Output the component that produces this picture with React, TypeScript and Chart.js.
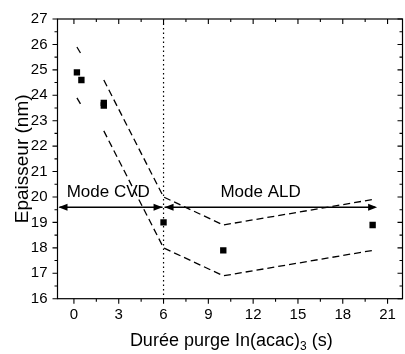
import React, { useEffect, useRef } from 'react';
import { Chart, registerables } from 'chart.js';

Chart.register(...registerables);

// ---------- data ----------
const xTickValues = [0, 3, 6, 9, 12, 15, 18, 21];
const yTickValues = [16, 17, 18, 19, 20, 21, 22, 23, 24, 25, 26, 27];

const purgeTimes = [0.2, 0.5, 2, 2, 6, 10, 20];
const thickness = [24.9, 24.6, 23.7, 23.6, 19.0, 17.9, 18.9];

const upperX1 = [0.2, 0.5];
const upperY1 = [25.9, 25.6];
const upperX2 = [2, 6, 10, 20];
const upperY2 = [24.6, 20.0, 18.9, 19.9];

const lowerX1 = [0.2, 0.5];
const lowerY1 = [23.9, 23.6];
const lowerX2 = [2, 6, 10, 20];
const lowerY2 = [22.6, 18.0, 16.9, 17.9];

const regimeBoundary = 6;
const arrowLevel = 19.6;
const aldArrowEnd = 20.3;
const cvdLabel = 'Mode CVD';
const aldLabel = 'Mode ALD';
const cvdLabelX = 2.3;
const aldLabelX = 12.5;
const modeLabelY = 20.2;

const yTitle = 'Epaisseur (nm)';
const xTitleMain = 'Durée purge In(acac)';
const xTitleSub = '3';
const xTitleEnd = ' (s)';

const FONT = "'Liberation Sans', Arial, sans-serif";

const toPts = (xs: number[], ys: number[]) => xs.map((x, i) => ({ x, y: ys[i] }));

const dashed = (xs: number[], ys: number[]) => ({
  data: toPts(xs, ys),
  showLine: true,
  borderColor: '#000',
  borderWidth: 1.3,
  borderDash: [7, 4],
  pointRadius: 0,
  fill: false,
});

const decorPlugin = {
  id: 'decor',
  afterDatasetsDraw(chart: any) {
    const { ctx, chartArea: a, scales } = chart;
    const xs = scales.x;
    const ys = scales.y;
    ctx.save();
    ctx.strokeStyle = '#000';
    ctx.fillStyle = '#000';

    // dotted boundary
    const bx = xs.getPixelForValue(regimeBoundary);
    ctx.lineWidth = 1.2;
    ctx.setLineDash([1.5, 3]);
    ctx.beginPath();
    ctx.moveTo(bx, a.top);
    ctx.lineTo(bx, a.bottom);
    ctx.stroke();
    ctx.setLineDash([]);

    // arrows
    const ay = ys.getPixelForValue(arrowLevel);
    const head = (tipX: number, dir: number) => {
      ctx.beginPath();
      ctx.moveTo(tipX, ay);
      ctx.lineTo(tipX - dir * 9, ay - 3.5);
      ctx.lineTo(tipX - dir * 9, ay + 3.5);
      ctx.closePath();
      ctx.fill();
    };
    const endX = xs.getPixelForValue(aldArrowEnd);
    ctx.lineWidth = 1.5;
    ctx.beginPath();
    ctx.moveTo(a.left + 2, ay);
    ctx.lineTo(bx - 1, ay);
    ctx.moveTo(bx + 1, ay);
    ctx.lineTo(endX - 2, ay);
    ctx.stroke();
    head(a.left + 1, -1);
    head(bx - 1, 1);
    head(bx + 1, -1);
    head(endX, 1);

    // mode labels
    ctx.font = `17px ${FONT}`;
    ctx.textAlign = 'center';
    ctx.textBaseline = 'middle';
    ctx.fillText(cvdLabel, xs.getPixelForValue(cvdLabelX), ys.getPixelForValue(modeLabelY));
    ctx.fillText(aldLabel, xs.getPixelForValue(aldLabelX), ys.getPixelForValue(modeLabelY));

    // frame
    ctx.lineWidth = 1.2;
    ctx.strokeRect(a.left, a.top, a.right - a.left, a.bottom - a.top);

    // ticks
    ctx.lineWidth = 1.1;
    ctx.beginPath();
    const xMin: number[] = [];
    for (let v = -1.5; v <= 23; v += 3) xMin.push(v);
    const drawX = (v: number, len: number) => {
      if (v < xs.min || v > xs.max) return;
      const p = xs.getPixelForValue(v);
      ctx.moveTo(p, a.bottom);
      ctx.lineTo(p, a.bottom + len);
      ctx.moveTo(p, a.top);
      ctx.lineTo(p, a.top + len);
    };
    xTickValues.forEach((v) => drawX(v, 5));
    xMin.forEach((v) => drawX(v, 3));
    const drawY = (v: number, len: number) => {
      if (v < ys.min || v > ys.max) return;
      const p = ys.getPixelForValue(v);
      ctx.moveTo(a.left, p);
      ctx.lineTo(a.left - len, p);
      ctx.moveTo(a.right, p);
      ctx.lineTo(a.right - len, p);
    };
    yTickValues.forEach((v) => drawY(v, 5));
    yTickValues.forEach((v) => drawY(v + 0.5, 3));
    ctx.stroke();

    // y title
    ctx.save();
    ctx.translate(23, (a.top + a.bottom) / 2);
    ctx.rotate(-Math.PI / 2);
    ctx.font = `19px ${FONT}`;
    ctx.textAlign = 'center';
    ctx.textBaseline = 'middle';
    ctx.fillText(yTitle, 0, 0);
    ctx.restore();

    // x title with subscript
    const big = `18px ${FONT}`;
    const small = `12px ${FONT}`;
    ctx.textAlign = 'left';
    ctx.textBaseline = 'middle';
    ctx.font = big;
    const w1 = ctx.measureText(xTitleMain).width;
    const w3 = ctx.measureText(xTitleEnd).width;
    ctx.font = small;
    const w2 = ctx.measureText(xTitleSub).width;
    const total = w1 + w2 + w3;
    const cx = (a.left + 405) / 2;
    const ty = 341.5;
    let sx = cx - total / 2;
    ctx.font = big;
    ctx.fillText(xTitleMain, sx, ty);
    sx += w1;
    ctx.font = small;
    ctx.fillText(xTitleSub, sx, ty + 5);
    sx += w2;
    ctx.font = big;
    ctx.fillText(xTitleEnd, sx, ty);

    ctx.restore();
  },
};

export default function App() {
  const ref = useRef<HTMLCanvasElement | null>(null);

  useEffect(() => {
    if (!ref.current) return;
    const chart = new Chart(ref.current, {
      type: 'scatter',
      data: {
        datasets: [
          dashed(upperX1, upperY1),
          dashed(upperX2, upperY2),
          dashed(lowerX1, lowerY1),
          dashed(lowerX2, lowerY2),
          {
            data: toPts(purgeTimes, thickness),
            showLine: false,
            pointStyle: 'rect',
            pointRadius: 4.5,
            backgroundColor: '#000',
            borderColor: '#000',
            borderWidth: 0,
          },
        ] as any,
      },
      options: {
        animation: false,
        responsive: false,
        devicePixelRatio: 1,
        layout: { padding: { top: 17, left: 0, right: 0, bottom: 0 } },
        plugins: { legend: { display: false }, tooltip: { enabled: false } },
        scales: {
          x: {
            type: 'linear',
            min: -1.1,
            max: 22,
            afterBuildTicks: (s: any) => {
              s.ticks = xTickValues.map((v) => ({ value: v }));
            },
            afterFit: (s: any) => {
              s.height = 55.3;
            },
            grid: { display: false, drawTicks: false },
            border: { display: false },
            ticks: {
              color: '#000',
              font: { family: FONT, size: 15 },
              padding: 7,
              maxRotation: 0,
              autoSkip: false,
            },
          },
          y: {
            type: 'linear',
            min: 16,
            max: 27,
            afterBuildTicks: (s: any) => {
              s.ticks = yTickValues.map((v) => ({ value: v }));
            },
            afterFit: (s: any) => {
              s.width = 57.5;
            },
            grid: { display: false, drawTicks: false },
            border: { display: false },
            ticks: {
              color: '#000',
              font: { family: FONT, size: 15 },
              padding: 10,
              autoSkip: false,
            },
          },
        },
      } as any,
      plugins: [decorPlugin],
    });
    return () => chart.destroy();
  }, []);

  return (
    <div
      style={{
        position: 'fixed',
        left: 0,
        top: 0,
        width: 405,
        height: 354,
        overflow: 'hidden',
        background: '#fff',
      }}
    >
      <canvas ref={ref} width={407} height={354} style={{ position: 'absolute', left: 0, top: 0 }} />
    </div>
  );
}
